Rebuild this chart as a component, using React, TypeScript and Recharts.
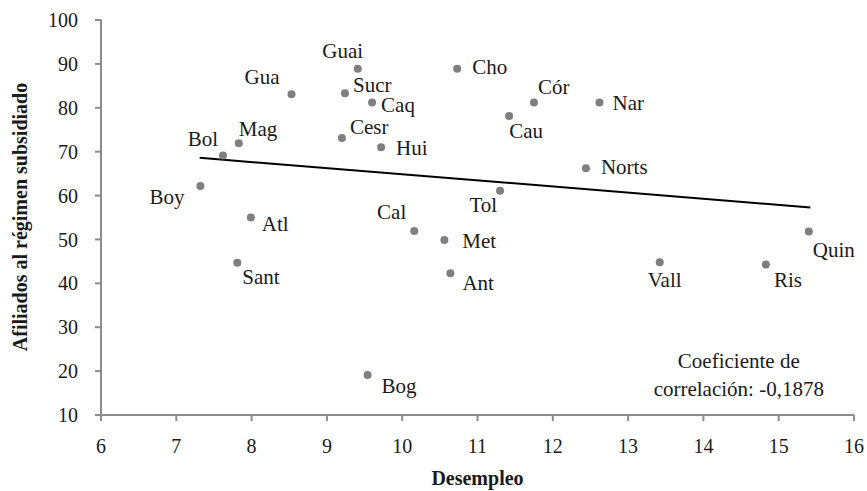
import { ScatterChart, Scatter, XAxis, YAxis, ReferenceLine, ReferenceDot } from 'recharts'

const departments = ['Gua', 'Mag', 'Bol', 'Boy', 'Atl', 'Sant', 'Guai', 'Sucr', 'Caq', 'Cesr', 'Hui', 'Cho', 'Cór', 'Cau', 'Nar', 'Norts', 'Tol', 'Cal', 'Met', 'Ant', 'Bog', 'Vall', 'Ris', 'Quin']
const unemployment = [8.53, 7.83, 7.62, 7.32, 7.99, 7.81, 9.41, 9.24, 9.6, 9.2, 9.72, 10.73, 11.75, 11.42, 12.62, 12.44, 11.3, 10.16, 10.56, 10.64, 9.54, 13.42, 14.83, 15.4]
const subsidized = [83.1, 71.9, 69.1, 62.2, 55.0, 44.7, 88.9, 83.3, 81.2, 73.1, 71.0, 88.9, 81.2, 78.1, 81.2, 66.2, 61.1, 51.9, 49.9, 42.3, 19.1, 44.8, 44.3, 51.8]

const trendX = [7.31, 15.42]
const trendY = [68.6, 57.3]

const xTicks = [6, 7, 8, 9, 10, 11, 12, 13, 14, 15, 16]
const yTicks = [10, 20, 30, 40, 50, 60, 70, 80, 90, 100]

// where each name sits relative to its dot: dx, dy (baseline), anchor
const labelOffset: Record<string, [number, number, 'start' | 'middle' | 'end']> = {
  Gua: [-12, -10, 'end'],
  Mag: [0, -7, 'start'],
  Bol: [-5, -10, 'end'],
  Boy: [-16, 18, 'end'],
  Atl: [11, 13, 'start'],
  Sant: [5, 21, 'start'],
  Guai: [-15, -11, 'middle'],
  Sucr: [8, -1, 'start'],
  Caq: [9, 9, 'start'],
  Cesr: [8, -4, 'start'],
  Hui: [15, 8, 'start'],
  Cho: [15, 5, 'start'],
  'Cór': [4, -9, 'start'],
  Cau: [0, 22, 'start'],
  Nar: [13, 7, 'start'],
  Norts: [15, 6, 'start'],
  Tol: [-3, 21, 'end'],
  Cal: [-8, -12, 'end'],
  Met: [18, 8, 'start'],
  Ant: [12, 17, 'start'],
  Bog: [14, 18, 'start'],
  Vall: [-12, 25, 'start'],
  Ris: [8, 23, 'start'],
  Quin: [4, 25, 'start'],
}

const font = '"Liberation Serif", "Times New Roman", serif'
const axisGray = '#8c8c8c'
const textColor = '#1a1a1a'

const points = departments.map((name, i) => ({ name, x: unemployment[i], y: subsidized[i] }))

function LabeledDot(props: any) {
  const { cx, cy, payload } = props
  const [dx, dy, anchor] = labelOffset[payload.name] || [8, 0, 'start']
  return (
    <g>
      <circle cx={cx} cy={cy} r={4} fill="#7f7f7f" />
      <text x={cx + dx} y={cy + dy} textAnchor={anchor} fontFamily={font} fontSize={21} fill={textColor}>
        {payload.name}
      </text>
    </g>
  )
}

function YTitle() {
  return (
    <text
      x={20}
      y={217}
      transform="rotate(-90 20 217)"
      textAnchor="middle"
      dominantBaseline="central"
      fontFamily={font}
      fontWeight="bold"
      fontSize={20}
      fill={textColor}
    >
      Afiliados al régimen subsidiado
    </text>
  )
}

function Note(props: any) {
  const { cx, cy } = props
  return (
    <g fontFamily={font} fontSize={21} fill={textColor} textAnchor="middle">
      <text x={cx} y={cy}>Coeficiente de</text>
      <text x={cx} y={cy + 28}>correlación: -0,1878</text>
    </g>
  )
}

export default function App() {
  const tickStyle = { fontFamily: font, fontSize: 20, fill: textColor }
  return (
    <div style={{ position: 'absolute', left: 0, top: 0, background: '#fff' }}>
      <ScatterChart width={867} height={491} margin={{ top: 20, right: 13, left: 0, bottom: 0 }}>
        <XAxis
          type="number"
          dataKey="x"
          domain={[6, 16]}
          ticks={xTicks}
          height={76}
          tickSize={6}
          tickMargin={18}
          axisLine={{ stroke: axisGray, strokeWidth: 2 }}
          tickLine={{ stroke: axisGray, strokeWidth: 2 }}
          tick={tickStyle}
          label={{
            value: 'Desempleo',
            position: 'insideBottom',
            offset: 6,
            style: { fontFamily: font, fontSize: 20, fontWeight: 'bold', fill: textColor },
          }}
        />
        <YAxis
          type="number"
          dataKey="y"
          domain={[10, 100]}
          ticks={yTicks}
          width={101}
          tickSize={6}
          tickMargin={17}
          axisLine={{ stroke: axisGray, strokeWidth: 2 }}
          tickLine={{ stroke: axisGray, strokeWidth: 2 }}
          tick={tickStyle}
          label={{ content: () => <YTitle /> }}
        />
        <ReferenceLine
          segment={[
            { x: trendX[0], y: trendY[0] },
            { x: trendX[1], y: trendY[1] },
          ]}
          stroke="#000"
          strokeWidth={2}
        />
        <Scatter data={points} shape={LabeledDot} isAnimationActive={false} />
        <ReferenceDot x={14.47} y={20.7} r={0} shape={Note} />
      </ScatterChart>
    </div>
  )
}
